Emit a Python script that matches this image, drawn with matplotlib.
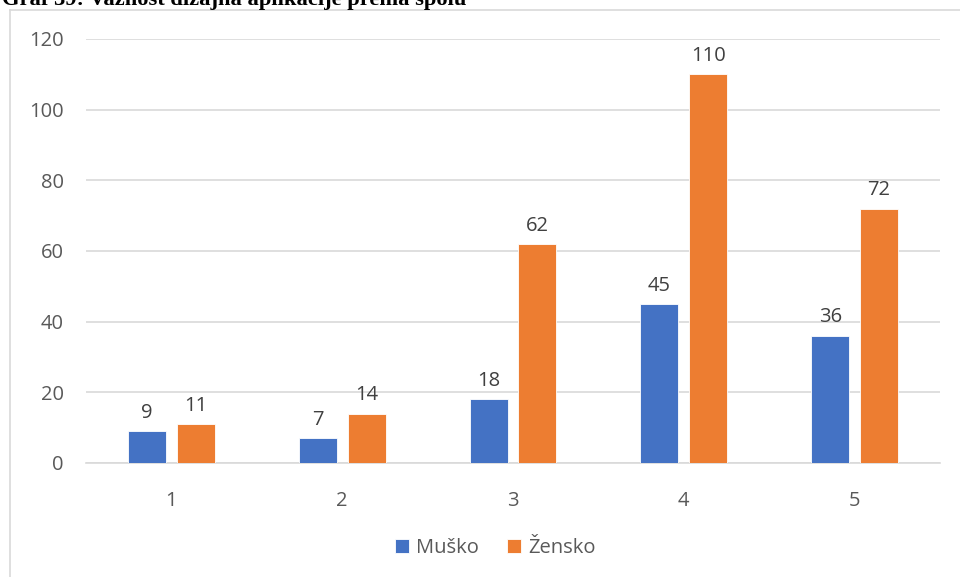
import matplotlib.pyplot as plt
import numpy as np
from matplotlib.lines import Line2D

categories = ["1", "2", "3", "4", "5"]
musko = [9, 7, 18, 45, 36]
zensko = [11, 14, 62, 110, 72]
series_names = ["Muško", "Žensko"]
title = "Graf 39: Važnost dizajna aplikacije prema spolu"

BLUE = "#4472C4"
ORANGE = "#ED7D31"
GRID = "#D9D9D9"
TICK = "#595959"
LABEL = "#404040"

plt.rcParams["font.family"] = ["Open Sans", "DejaVu Sans"]

W, H = 960, 577
fig = plt.figure(figsize=(W / 100, H / 100), dpi=100)

# chart frame (runs off the right and bottom edges)
fig.add_artist(Line2D([10 / W, 10 / W], [1 - 10 / H, 0], transform=fig.transFigure,
                      color=GRID, lw=1.2))
fig.add_artist(Line2D([10 / W, 1], [1 - 10 / H, 1 - 10 / H], transform=fig.transFigure,
                      color=GRID, lw=1.2))

fig.text(2 / W, 1 - 5 / H, title, family="Liberation Serif", weight="bold",
         fontsize=16.2, color="black", ha="left", va="baseline")

ax = fig.add_axes([86 / W, 1 - 463 / H, (940 - 86) / W, (463 - 39) / H])

x = np.arange(1, len(categories) + 1)
bw = 0.222
off = 0.143
b1 = ax.bar(x - off, musko, bw, color=BLUE, edgecolor="white", linewidth=0.6,
            label=series_names[0], zorder=3)
b2 = ax.bar(x + off, zensko, bw, color=ORANGE, edgecolor="white", linewidth=0.6,
            label=series_names[1], zorder=3)

for bars, vals in ((b1, musko), (b2, zensko)):
    for rect, v in zip(bars, vals):
        ax.annotate(str(v), (rect.get_x() + rect.get_width() / 2, v),
                    xytext=(0, 6), textcoords="offset points",
                    ha="center", va="bottom", fontsize=14.5, color=LABEL)

ax.set_xlim(0.5, 5.5)
ax.set_ylim(0, 120)
ax.set_yticks(range(0, 121, 20))
ax.set_xticks(x)
ax.set_xticklabels(categories)
ax.grid(axis="y", color=GRID, lw=1.2, zorder=0)
ax.tick_params(axis="both", length=0, labelsize=14.5, labelcolor=TICK)
ax.tick_params(axis="x", pad=20)
ax.tick_params(axis="y", pad=16)
for s in ["top", "right", "left"]:
    ax.spines[s].set_visible(False)
ax.spines["bottom"].set_color(GRID)
ax.spines["bottom"].set_linewidth(1.2)

fig.legend(handles=[b1, b2], labels=series_names, loc="center",
           bbox_to_anchor=(495 / W, 1 - 548 / H), ncol=2, frameon=False,
           fontsize=14.5, labelcolor=TICK, handlelength=0.7, handleheight=0.7,
           handletextpad=0.35, columnspacing=1.4)

fig.savefig("out.png", dpi=100)
